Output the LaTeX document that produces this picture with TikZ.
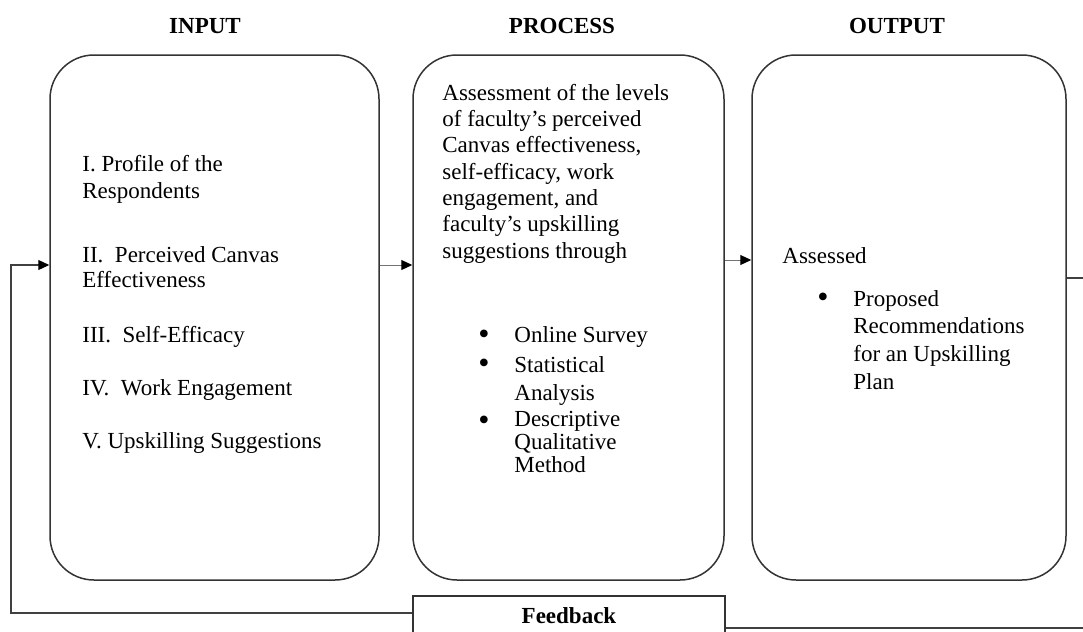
\documentclass[tikz,border=0pt]{standalone}
\usepackage{fontspec}
\setmainfont{Liberation Serif}
\usetikzlibrary{arrows.meta,calc}
\begin{document}
\begin{tikzpicture}[x=0.5pt,y=-0.5pt,
  stage/.style={draw=black!80, line width=0.75pt, rounded corners=22pt,
    minimum width=#1, minimum height=262.5pt, inner sep=0pt},
  heading/.style={font=\fontsize{11.5}{13.2}\selectfont\bfseries, inner sep=0pt, anchor=base},
  txt/.style={font=\fontsize{11.5}{#1}\selectfont, inner sep=0pt, anchor=north west, align=left},
  txt/.default=13.2,
  dot/.style={font=\fontsize{16}{16}\selectfont, inner sep=0pt, anchor=base west},
  tip/.style={-{Triangle[length=5.5pt,width=5pt,color=black]}},
  link/.style={draw=black!55, line width=0.5pt, tip},
  loop/.style={draw=black!75, line width=0.6pt}
]
\useasboundingbox (0,0) rectangle (1083,632);

% column headings
\node[heading] (hin)   at (205,33) {INPUT};
\node[heading] (hproc) at (562,33) {PROCESS};
\node[heading] (hout)  at (897,33) {OUTPUT};

% the three stages
\node[stage=164.5pt] (in)   at (214.5,317.5) {};
\node[stage=155.5pt] (proc) at (568.5,317.5) {};
\node[stage=157pt]   (out)  at (909,317.5) {};

% input items (top = baseline - strut height)
\node[txt=13.5] (i1) at (82,152.5) {\strut I. Profile of the\\Respondents};
\node[txt=12.5] (i2) at (82,244.5) {\strut II.\ \ Perceived Canvas\\Effectiveness};
\node[txt] (i3) at (82,323.5) {\strut III.\ \ Self-Efficacy};
\node[txt] (i4) at (82,376.5) {\strut IV.\ \ Work Engagement};
\node[txt] (i5) at (82,429.5) {\strut V. Upskilling Suggestions};

% process description and methods
\node[txt=13.15] (p0) at (442,81.5) {\strut Assessment of the levels\\of faculty’s perceived\\Canvas effectiveness,\\self-efficacy, work\\engagement, and\\faculty’s upskilling\\suggestions through};
\node[dot] (pb1) at (478,344) {\textbullet};
\node[dot] (pb2) at (478,373) {\textbullet};
\node[dot] (pb3) at (478,430) {\textbullet};
\node[txt] (p1) at (514,323.5) {\strut Online Survey};
\node[txt=14] (p2) at (514,352.5) {\strut Statistical\\Analysis};
\node[txt=11.4] (p3) at (514,410.5) {\strut Descriptive\\Qualitative\\Method};

% output
\node[txt] (o0) at (782,244.5) {\strut Assessed};
\node[dot] (ob1) at (817,307) {\textbullet};
\node[txt=13.85] (o1) at (853,286.5) {\strut Proposed\\Recommendations\\for an Upskilling\\Plan};

% feedback box
\node[draw=black!80, line width=0.75pt, minimum width=156pt, inner sep=0pt,
      text height=13.5pt, text depth=13.5pt, text width=156pt, align=center,
      font=\fontsize{11.5}{13.2}\selectfont\bfseries] (fb) at (569,623) {Feedback};

% forward flow
\coordinate (lvA) at (30,265);
\coordinate (lvB) at (738,260);
\draw[link] (in.east |- lvA) -- (proc.west |- lvA);
\draw[link] (proc.east |- lvB) -- (out.west |- lvB);

% feedback loop
\coordinate (rA) at (1100,278);
\coordinate (rB) at (1100,628);
\coordinate (lA) at (11,613);
\coordinate (lB) at (11,265);
\draw[loop] (out.east |- rA) -- (rA) -- (rB) -- (fb.east |- rB);
\draw[loop, tip] (fb.west |- lA) -- (lA) -- (lB) -- (in.west |- lB);
\end{tikzpicture}
\end{document}
